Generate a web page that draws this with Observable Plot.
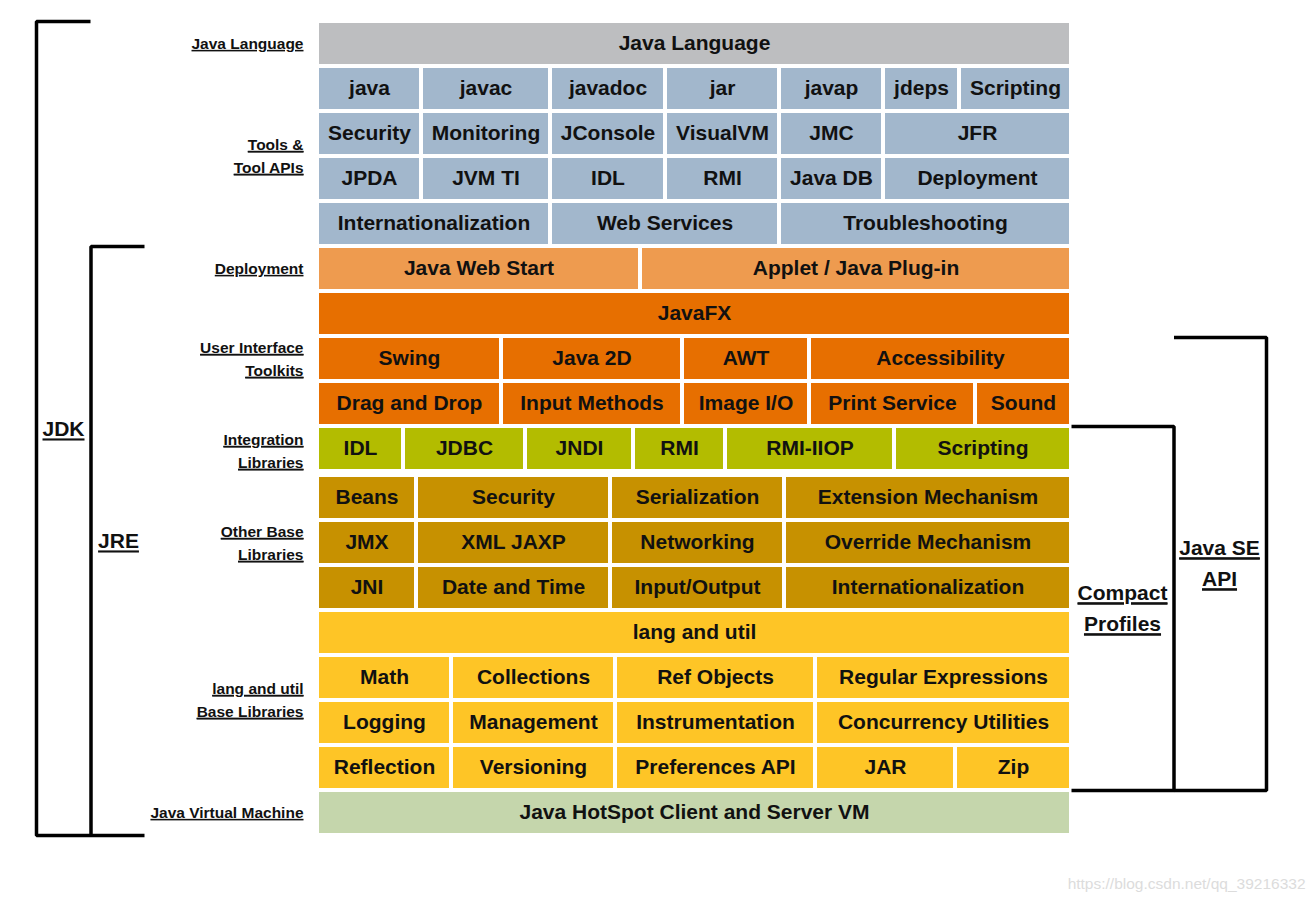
<!DOCTYPE html>
<html>
<head>
<meta charset="utf-8">
<script src="https://cdn.jsdelivr.net/npm/d3@7"></script>
<script src="https://cdn.jsdelivr.net/npm/@observablehq/plot@0.6"></script>
<style>
  html, body { margin: 0; padding: 0; background: #fff; }
  g[aria-description="underlined"] text, g[aria-description="underlined"] tspan { text-decoration: underline; }
</style>
</head>
<body>
<div id="chart"></div>
<script>
// ---- Data ----
const layerNames = ["Java Language", "Tools & Tool APIs", "Deployment", "User Interface Toolkits",
  "Integration Libraries", "Other Base Libraries", "lang and util Base Libraries", "Java Virtual Machine"];
const layerColors = ["#bdbec0", "#a2b7cc", "#ee9b4f", "#e76f00", "#b3bc00", "#c79100", "#fec526", "#c5d6ac"];

// row top edges (diagram units) and the layer each row belongs to
const rowTops = [23, 68, 113, 158, 203, 248, 293, 338, 383, 428, 477, 522, 567, 612, 657, 702, 747, 792];
const rowHeight = 41;
const rowLayer = [0, 1, 1, 1, 1, 2, 3, 3, 3, 4, 5, 5, 5, 6, 6, 6, 6, 7];

// each row: [label, start, end]
const rowCells = [
  [["Java Language", 319, 1069]],
  [["java", 319, 419], ["javac", 423, 548], ["javadoc", 552, 663], ["jar", 667, 777], ["javap", 781, 881], ["jdeps", 885, 957], ["Scripting", 961, 1069]],
  [["Security", 319, 419], ["Monitoring", 423, 548], ["JConsole", 552, 663], ["VisualVM", 667, 777], ["JMC", 781, 881], ["JFR", 885, 1069]],
  [["JPDA", 319, 419], ["JVM TI", 423, 548], ["IDL", 552, 663], ["RMI", 667, 777], ["Java DB", 781, 881], ["Deployment", 885, 1069]],
  [["Internationalization", 319, 548], ["Web Services", 552, 777], ["Troubleshooting", 781, 1069]],
  [["Java Web Start", 319, 638], ["Applet / Java Plug-in", 642, 1069]],
  [["JavaFX", 319, 1069]],
  [["Swing", 319, 499], ["Java 2D", 503, 680], ["AWT", 684, 807], ["Accessibility", 811, 1069]],
  [["Drag and Drop", 319, 499], ["Input Methods", 503, 680], ["Image I/O", 684, 807], ["Print Service", 811, 973], ["Sound", 977, 1069]],
  [["IDL", 319, 401], ["JDBC", 405, 523], ["JNDI", 527, 631], ["RMI", 635, 723], ["RMI-IIOP", 727, 892], ["Scripting", 896, 1069]],
  [["Beans", 319, 414], ["Security", 418, 608], ["Serialization", 612, 782], ["Extension Mechanism", 786, 1069]],
  [["JMX", 319, 414], ["XML JAXP", 418, 608], ["Networking", 612, 782], ["Override Mechanism", 786, 1069]],
  [["JNI", 319, 414], ["Date and Time", 418, 608], ["Input/Output", 612, 782], ["Internationalization", 786, 1069]],
  [["lang and util", 319, 1069]],
  [["Math", 319, 449], ["Collections", 453, 613], ["Ref Objects", 617, 813], ["Regular Expressions", 817, 1069]],
  [["Logging", 319, 449], ["Management", 453, 613], ["Instrumentation", 617, 813], ["Concurrency Utilities", 817, 1069]],
  [["Reflection", 319, 449], ["Versioning", 453, 613], ["Preferences API", 617, 813], ["JAR", 817, 953], ["Zip", 957, 1069]],
  [["Java HotSpot Client and Server VM", 319, 1069]]
];

// left-side layer labels: [text, right edge, centre]
const sideLabels = [
  ["Java Language", 303, 43],
  ["Tools &\nTool APIs", 303, 155.5],
  ["Deployment", 303, 268],
  ["User Interface\nToolkits", 303, 358.5],
  ["Integration\nLibraries", 303, 450.5],
  ["Other Base\nLibraries", 303, 542.5],
  ["lang and util\nBase Libraries", 303, 699.5],
  ["Java Virtual Machine", 303, 812]
];

// bracket groups: name, label position, path vertices
const bracketNames = ["JDK", "JRE", "Compact\nProfiles", "Java SE\nAPI"];
const bracketLabelPos = [[63, 429], [118, 541], [1122, 608.5], [1219, 563.5]];
const bracketPaths = [
  [[90, 21], [36, 21], [36, 835], [144, 835]],
  [[144, 246], [90.5, 246], [90.5, 835]],
  [[1071, 426], [1173.5, 426], [1173.5, 790], [1071, 790]],
  [[1173.5, 337], [1266, 337], [1266, 790], [1173.5, 790]]
];

const watermark = "https://blog.csdn.net/qq_39216332";

// ---- Build tables ----
const cells = rowCells.flatMap((row, i) => row.map(([label, x1, x2]) => ({
  label, x1, x2, y1: rowTops[i], y2: rowTops[i] + rowHeight, color: layerColors[rowLayer[i]]
})));
const sides = sideLabels.map(([text, x, y]) => ({text, x, y}));
const bracketLabels = bracketNames.map((text, i) => ({text, x: bracketLabelPos[i][0], y: bracketLabelPos[i][1]}));
const bracketPts = bracketPaths.flatMap((p, i) => p.map(([x, y]) => ({g: i, x, y})));

const font = "Liberation Sans, Arial, Helvetica, sans-serif";

const chart = Plot.plot({
  width: 1314,
  height: 902,
  margin: 0,
  x: {domain: [0, 1314], range: [0, 1314], axis: null},
  y: {domain: [0, 902], range: [0, 902], axis: null},
  style: {fontFamily: font, background: "#fff"},
  marks: [
    Plot.rect(cells, {x1: "x1", x2: "x2", y1: "y1", y2: "y2", fill: "color"}),
    Plot.text(cells, {x: d => (d.x1 + d.x2) / 2, y: d => (d.y1 + d.y2) / 2, text: "label", dy: -1,
      fontSize: 21, fontWeight: "bold", fill: "#111", fontFamily: font}),
    Plot.text(sides, {x: "x", y: "y", text: "text", textAnchor: "end", fontSize: 15.5, fontWeight: "bold", dy: -2,
      fill: "#111", lineHeight: 1.48, fontFamily: font, ariaDescription: "underlined"}),
    Plot.line(bracketPts, {x: "x", y: "y", z: "g", stroke: "#000", strokeWidth: 3.5,
      strokeLinejoin: "miter", strokeLinecap: "butt", curve: "linear"}),
    Plot.text(bracketLabels, {x: "x", y: "y", text: "text", fontSize: 21, fontWeight: "bold", dy: -3,
      fill: "#111", lineHeight: 1.476, fontFamily: font, ariaDescription: "underlined"}),
    Plot.text([watermark], {x: 1305, y: 884, text: d => d, textAnchor: "end", fontSize: 15.5,
      fill: "#dcdcdc", fontFamily: font})
  ]
});
document.getElementById("chart").appendChild(chart);
</script>
</body>
</html>
